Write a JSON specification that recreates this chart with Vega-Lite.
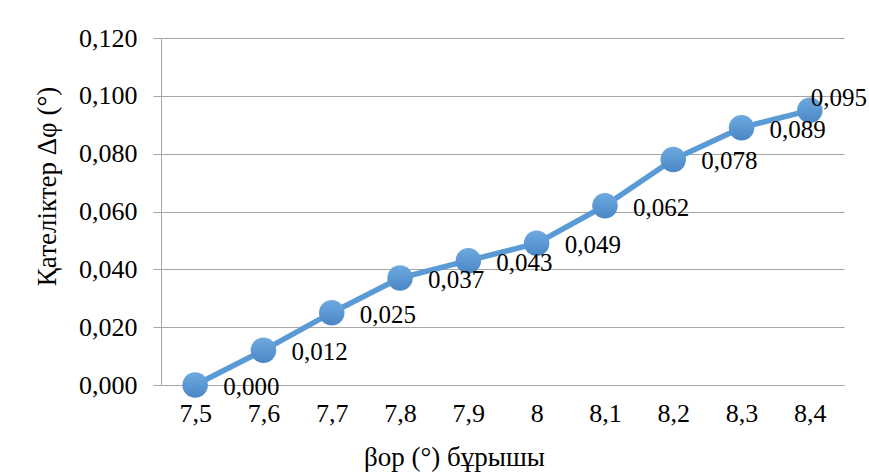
{
  "$schema": "https://vega.github.io/schema/vega-lite/v6.json",
  "width": 683,
  "height": 347,
  "autosize": {"type": "none"},
  "padding": {"left": 161, "top": 38, "right": 25, "bottom": 90},
  "background": "#ffffff",
  "config": {
    "locale": {"number": {"decimal": ",", "thousands": " ", "grouping": [3], "currency": ["", ""]}},
    "font": "Liberation Serif",
    "view": {"stroke": null}
  },
  "data": {
    "values": [
      {"beta": "7,5", "dphi": 0.000},
      {"beta": "7,6", "dphi": 0.012},
      {"beta": "7,7", "dphi": 0.025},
      {"beta": "7,8", "dphi": 0.037},
      {"beta": "7,9", "dphi": 0.043},
      {"beta": "8", "dphi": 0.049},
      {"beta": "8,1", "dphi": 0.062},
      {"beta": "8,2", "dphi": 0.078},
      {"beta": "8,3", "dphi": 0.089},
      {"beta": "8,4", "dphi": 0.095}
    ]
  },
  "encoding": {
    "x": {
      "field": "beta",
      "type": "ordinal",
      "sort": null,
      "scale": {"type": "point", "padding": 0.5},
      "axis": {
        "title": "βор (°) бұрышы",
        "titleFont": "Liberation Serif",
        "titleFontSize": 27,
        "titleFontWeight": "normal",
        "titleColor": "#000000",
        "titleX": 293,
        "titleY": 80,
        "titleBaseline": "alphabetic",
        "labelAngle": 0,
        "labelFont": "Liberation Serif",
        "labelFontSize": 26,
        "labelColor": "#000000",
        "labelPadding": 15,
        "ticks": false,
        "domainColor": "#a6a6a6",
        "domainWidth": 1,
        "grid": false
      }
    },
    "y": {
      "field": "dphi",
      "type": "quantitative",
      "scale": {"domain": [0, 0.12], "nice": false, "zero": true},
      "axis": {
        "title": "Қателіктер Δφ (°)",
        "titleFont": "Liberation Serif",
        "titleFontSize": 27,
        "titleFontWeight": "normal",
        "titleColor": "#000000",
        "titleX": -106,
        "titleY": 148,
        "titleBaseline": "alphabetic",
        "values": [0, 0.02, 0.04, 0.06, 0.08, 0.1, 0.12],
        "format": ".3f",
        "labelFont": "Liberation Serif",
        "labelFontSize": 26,
        "labelColor": "#000000",
        "labelPadding": 16,
        "tickSize": 8,
        "tickColor": "#a6a6a6",
        "domainColor": "#a6a6a6",
        "gridColor": "#a6a6a6",
        "gridWidth": 1,
        "grid": true
      }
    }
  },
  "layer": [
    {
      "mark": {"type": "line", "color": "#5b9bd5", "strokeWidth": 5.5, "strokeCap": "round", "strokeJoin": "round"},
      "encoding": {}
    },
    {
      "mark": {
        "type": "point",
        "shape": "circle",
        "filled": true,
        "opacity": 1,
        "size": 650,
        "strokeWidth": 0,
        "color": {
          "gradient": "linear",
          "x1": 0.5, "y1": 0, "x2": 0.5, "y2": 1,
          "stops": [
            {"offset": 0, "color": "#6eaae0"},
            {"offset": 1, "color": "#4a86c5"}
          ]
        }
      },
      "encoding": {}
    },
    {
      "transform": [{"filter": "datum.beta !== '8,4'"}],
      "mark": {"type": "text", "align": "left", "baseline": "middle", "dx": 28, "dy": 2, "fontSize": 25, "font": "Liberation Serif", "color": "#000000"},
      "encoding": {"text": {"field": "dphi", "type": "quantitative", "format": ".3f"}}
    },
    {
      "transform": [{"filter": "datum.beta === '8,4'"}],
      "mark": {"type": "text", "align": "left", "baseline": "middle", "dx": 1, "dy": -12, "fontSize": 25, "font": "Liberation Serif", "color": "#000000"},
      "encoding": {"text": {"field": "dphi", "type": "quantitative", "format": ".3f"}}
    }
  ]
}
